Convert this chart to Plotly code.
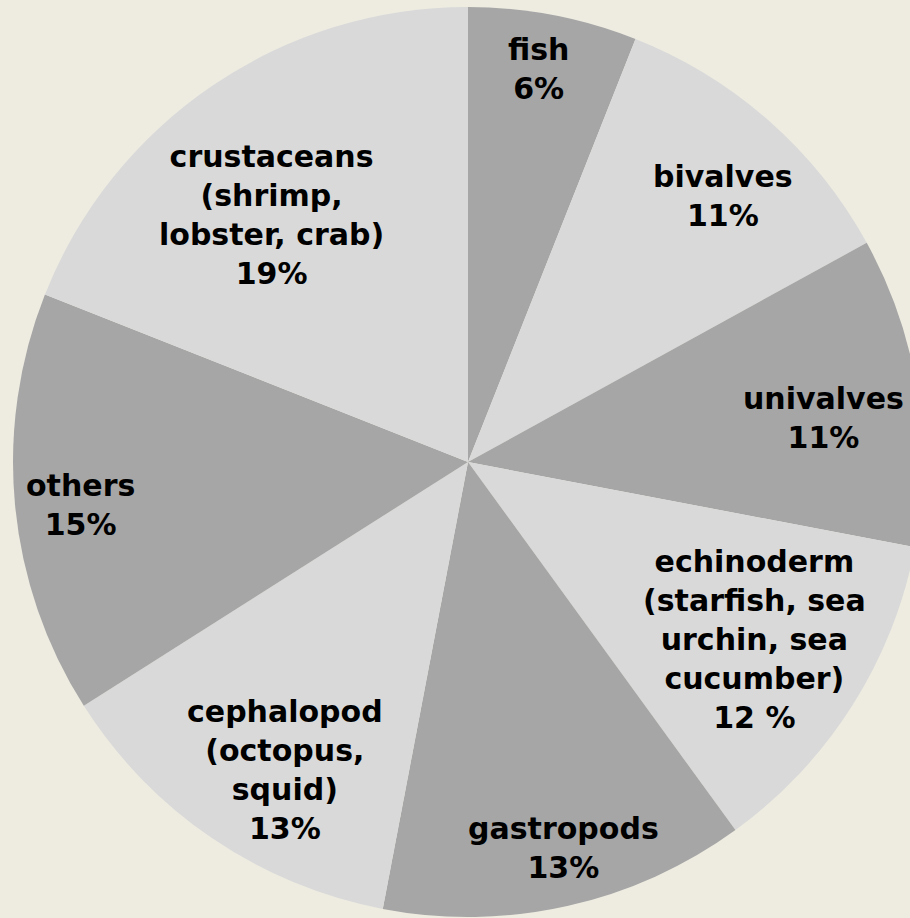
import math
import plotly.graph_objects as go

categories = ["fish", "bivalves", "univalves", "echinoderm", "gastropods",
              "cephalopod", "others", "crustaceans"]
label_texts = ["fish<br>6%", "bivalves<br>11%", "univalves<br>11%",
               "echinoderm<br>(starfish, sea<br>urchin, sea<br>cucumber)<br>12 %",
               "gastropods<br>13%", "cephalopod<br>(octopus,<br>squid)<br>13%",
               "others<br>15%", "crustaceans<br>(shrimp,<br>lobster, crab)<br>19%"]
values = [6, 11, 11, 12, 13, 13, 15, 19]

# layout/style settings
colors = ["#A6A6A6", "#D9D9D9", "#A6A6A6", "#D9D9D9",
          "#A6A6A6", "#D9D9D9", "#A6A6A6", "#D9D9D9"]
label_radius = [0.878, 0.810, 0.788, 0.740, 0.875, 0.788, 0.857, 0.695]
label_angle_shift = [-0.6, 2.3, 1.9, -0.6, -1.3, -3.5, -1.0, -4.3]

W, H = 936, 918
fig = go.Figure(go.Pie(
    labels=categories, values=values, sort=False, direction="clockwise",
    rotation=0, marker=dict(colors=colors, line=dict(width=0)),
    textinfo="none", hoverinfo="label+percent", showlegend=False,
    domain=dict(x=[0, 1], y=[0, 1]),
))

total = sum(values)
cum = 0
annotations = []
for txt, v, rf, da in zip(label_texts, values, label_radius, label_angle_shift):
    mid = (cum + v / 2) / total * 2 * math.pi + math.radians(da)
    cum += v
    annotations.append(dict(
        x=0.5 + 0.5 * rf * math.sin(mid), y=0.5 + 0.5 * rf * math.cos(mid),
        xref="paper", yref="paper", xanchor="center", yanchor="middle",
        text="<b>" + txt + "</b>", showarrow=False, align="center",
        font=dict(family="DejaVu Sans", size=30, color="#000000"),
    ))

fig.update_layout(
    width=W, height=H,
    margin=dict(l=13, r=13, t=7, b=1),
    paper_bgcolor="#EEECE1", plot_bgcolor="#EEECE1",
    annotations=annotations,
)

fig.write_html("out.html", post_script="document.documentElement.style.overflow='hidden';document.body.style.overflow='hidden';document.body.style.margin='0';")
